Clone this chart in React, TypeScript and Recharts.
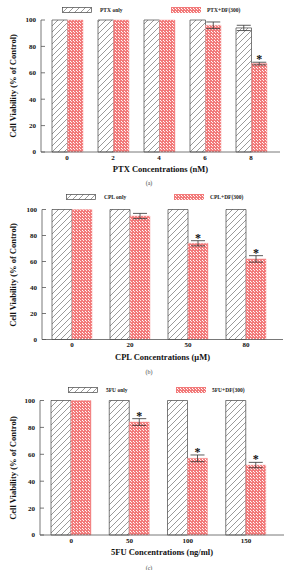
import { Bar, BarChart, ErrorBar, LabelList, XAxis, YAxis } from 'recharts'

const SERIF = '"Liberation Serif", "Times New Roman", serif'

const yTicks = [0, 20, 40, 60, 80, 100]

// Panel (a): paclitaxel
const ptxDoses = ['0', '2', '4', '6', '8']
const ptxOnly = [100, 100, 100, 100, 94]
const ptxOnlyErr = [null, null, null, null, 2]
const ptxDf = [100, 100, 100, 96, 67]
const ptxDfErr = [null, null, null, 2.5, 1]
const ptxSig = [false, false, false, false, true]

// Panel (b): cisplatin
const cplDoses = ['0', '20', '50', '80']
const cplOnly = [100, 100, 100, 100]
const cplOnlyErr = [null, null, null, null]
const cplDf = [100, 95, 74, 62]
const cplDfErr = [null, 2, 2, 2.5]
const cplSig = [false, false, true, true]

// Panel (c): 5-fluorouracil
const fuDoses = ['0', '50', '100', '150']
const fuOnly = [100, 100, 100, 100]
const fuOnlyErr = [null, null, null, null]
const fuDf = [100, 84, 57, 52]
const fuDfErr = [null, 2.5, 2.5, 2]
const fuSig = [false, true, true, true]

type Num = number | null

interface PanelProps {
  top: number
  doses: string[]
  only: number[]
  onlyErr: Num[]
  combo: number[]
  comboErr: Num[]
  sig: boolean[]
  onlyName: string
  comboName: string
  xTitle: string
  caption: string
  axisX: number
  axisEnd: number
  plotTop: number
  plotBottom: number
  padL: number
  padR: number
  barSize: number
  legendY: number
  legendX1: number
  legendX2: number
  captionY: number
}

function YTick(props: any) {
  const { x, y, payload } = props
  const ax = x + 5
  return (
    <g>
      <line x1={ax} x2={ax + 4} y1={y} y2={y} stroke="#555" strokeWidth={0.8} />
      <text x={x} y={y} dy="0.35em" textAnchor="end" fontFamily={SERIF} fontWeight={700} fontSize={7} fill="#111">
        {payload.value}
      </text>
    </g>
  )
}

function Panel(p: PanelProps) {
  const data = p.doses.map((d, i) => ({
    dose: d,
    only: p.only[i],
    onlyErr: p.onlyErr[i],
    combo: p.combo[i],
    comboErr: p.comboErr[i],
  }))
  const chartH = 190
  const xAxisH = 30

  // asterisk just above the error bar cap
  const star = (props: any) => {
    const { x, y, width, height, value, index } = props
    if (!p.sig[index]) return null
    const errPx = ((p.comboErr[index] ?? 0) * height) / value
    return (
      <text x={x + width / 2} y={y - errPx + 1} textAnchor="middle" fontFamily={SERIF} fontWeight={700} fontSize={12} fill="#111">
        *
      </text>
    )
  }

  const legendText = { position: 'absolute' as const, fontFamily: SERIF, fontWeight: 700, fontSize: 5.5, lineHeight: '6px', color: '#222' }

  return (
    <div style={{ position: 'absolute', left: 0, top: p.top, width: 301, height: chartH }}>
      <BarChart
        width={301}
        height={chartH}
        data={data}
        barGap={0}
        margin={{ top: p.plotTop, right: 301 - p.axisEnd, left: 0, bottom: chartH - p.plotBottom - xAxisH }}
      >
        <XAxis
          dataKey="dose"
          height={xAxisH}
          padding={{ left: p.padL, right: p.padR }}
          tickLine={false}
          tickSize={0}
          tickMargin={3}
          axisLine={{ stroke: '#555', strokeWidth: 0.8 }}
          tick={{ fontFamily: SERIF, fontWeight: 700, fontSize: 7, fill: '#111' }}
        />
        <YAxis
          width={p.axisX}
          domain={[0, 100]}
          ticks={yTicks}
          interval={0}
          tickLine={false}
          tickSize={0}
          tickMargin={5}
          axisLine={{ stroke: '#555', strokeWidth: 0.8 }}
          tick={<YTick />}
        />
        <Bar dataKey="only" barSize={p.barSize} fill="url(#hatch)" stroke="#444" strokeWidth={0.7} isAnimationActive={false}>
          <ErrorBar dataKey="onlyErr" width={7} stroke="#333" strokeWidth={0.8} direction="y" />
        </Bar>
        <Bar dataKey="combo" barSize={p.barSize} fill="url(#checker)" stroke="#f4a0a0" strokeWidth={0.5} isAnimationActive={false}>
          <ErrorBar dataKey="comboErr" width={7} stroke="#333" strokeWidth={0.8} direction="y" />
          <LabelList dataKey="combo" content={star} />
        </Bar>
      </BarChart>

      {/* legend */}
      <svg style={{ position: 'absolute', left: p.legendX1, top: p.legendY - 3 }} width={30} height={6}>
        <rect x={0.5} y={0.5} width={29} height={5} fill="url(#hatch)" stroke="#444" strokeWidth={0.7} />
      </svg>
      <div style={{ ...legendText, left: p.legendX1 + 38, top: p.legendY - 3 }}>{p.onlyName}</div>
      <svg style={{ position: 'absolute', left: p.legendX2, top: p.legendY - 3 }} width={30} height={6}>
        <rect x={0} y={0} width={30} height={6} fill="url(#checker)" />
      </svg>
      <div style={{ ...legendText, left: p.legendX2 + 36, top: p.legendY - 3 }}>{p.comboName}</div>

      {/* axis titles */}
      <div
        style={{
          position: 'absolute',
          left: 13,
          top: (p.plotTop + p.plotBottom) / 2,
          transform: 'translate(-50%, -50%) rotate(-90deg)',
          whiteSpace: 'nowrap',
          fontFamily: SERIF,
          fontWeight: 700,
          fontSize: 8.5,
          color: '#111',
        }}
      >
        Cell Viability (% of Control)
      </div>
      <div
        style={{
          position: 'absolute',
          left: (p.axisX + p.axisEnd) / 2,
          top: p.plotBottom + 17,
          transform: 'translate(-50%, -50%)',
          whiteSpace: 'nowrap',
          fontFamily: SERIF,
          fontWeight: 700,
          fontSize: 8.5,
          color: '#111',
        }}
      >
        {p.xTitle}
      </div>
      <div
        style={{
          position: 'absolute',
          left: 149,
          top: p.captionY,
          transform: 'translate(-50%, -50%)',
          fontFamily: SERIF,
          fontSize: 6,
          color: '#444',
        }}
      >
        {p.caption}
      </div>
    </div>
  )
}

export default function App() {
  return (
    <div style={{ position: 'fixed', left: 0, top: 0, width: 301, height: 570, background: '#fff', overflow: 'hidden' }}>
      <svg width={0} height={0} style={{ position: 'absolute' }}>
        <defs>
          <pattern id="hatch" patternUnits="userSpaceOnUse" width={6} height={6}>
            <rect width={6} height={6} fill="#fff" />
            <path d="M-1,1 l2,-2 M0,6 l6,-6 M5,7 l2,-2" stroke="#555" strokeWidth={0.6} />
          </pattern>
          <pattern id="checker" patternUnits="userSpaceOnUse" width={3} height={3}>
            <rect width={3} height={3} fill="#f27a7a" />
            <rect x={1} y={1} width={1} height={1} fill="#fff" />
            <rect x={2} y={2} width={1} height={1} fill="#fde8e8" />
          </pattern>
        </defs>
      </svg>
      <Panel
        top={0}
        doses={ptxDoses}
        only={ptxOnly}
        onlyErr={ptxOnlyErr}
        combo={ptxDf}
        comboErr={ptxDfErr}
        sig={ptxSig}
        onlyName="PTX only"
        comboName="PTX+DF(300)"
        xTitle="PTX Concentrations (nM)"
        caption="(a)"
        axisX={41}
        axisEnd={280}
        plotTop={20}
        plotBottom={152}
        padL={3}
        padR={6}
        barSize={15.5}
        legendY={9.5}
        legendX1={62}
        legendX2={171}
        captionY={183}
      />
      <Panel
        top={190}
        doses={cplDoses}
        only={cplOnly}
        onlyErr={cplOnlyErr}
        combo={cplDf}
        comboErr={cplDfErr}
        sig={cplSig}
        onlyName="CPL only"
        comboName="CPL+DF(300)"
        xTitle="CPL Concentrations (μM)"
        caption="(b)"
        axisX={42}
        axisEnd={283}
        plotTop={19.5}
        plotBottom={149.5}
        padL={1}
        padR={8}
        barSize={20}
        legendY={7}
        legendX1={66}
        legendX2={174}
        captionY={182}
      />
      <Panel
        top={380}
        doses={fuDoses}
        only={fuOnly}
        onlyErr={fuOnlyErr}
        combo={fuDf}
        comboErr={fuDfErr}
        sig={fuSig}
        onlyName="5FU only"
        comboName="5FU+DF(300)"
        xTitle="5FU Concentrations (ng/ml)"
        caption="(c)"
        axisX={40}
        axisEnd={284}
        plotTop={20.5}
        plotBottom={155}
        padL={2}
        padR={9}
        barSize={20}
        legendY={9.5}
        legendX1={68}
        legendX2={176}
        captionY={188}
      />
    </div>
  )
}
